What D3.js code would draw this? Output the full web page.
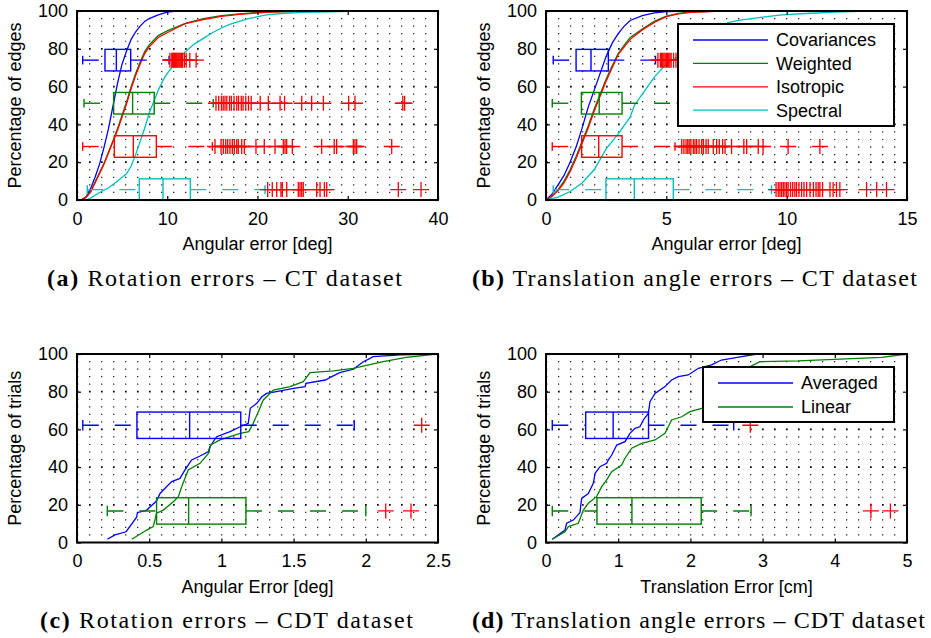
<!DOCTYPE html>
<html>
<head>
<meta charset="utf-8">
<script src="https://cdn.jsdelivr.net/npm/d3@7"></script>
<style>
  body { margin: 0; background: #fff; }
  svg { display: block; }
</style>
</head>
<body>
<svg id="fig" width="931" height="638"></svg>
<script>
// ---- series names / colours
const seriesCT = ['Covariances', 'Weighted', 'Isotropic', 'Spectral'];
const seriesCDT = ['Averaged', 'Linear'];
const colorsCT = ['#0000ff', '#008000', '#ff0000', '#00bfbf'];
const colorsCDT = ['#0000ff', '#008000'];

// ---- tick values
const yTicks = [0, 20, 40, 60, 80, 100];
const aTicks = [0, 10, 20, 30, 40];
const bTicks = [0, 5, 10, 15];
const cTicks = [0, 0.5, 1, 1.5, 2, 2.5];
const dTicks = [0, 1, 2, 3, 4, 5];

// ---- (a) rotation errors, CT: cumulative curves [error, percent]
const aCovCdf = [[0.4,0],[1,1.5],[1.5,6],[2,12],[2.5,19],[3,28],[3.5,38],[4,50],[4.5,62],[5,72],[5.5,79],[6,85],[6.5,89],[7,92],[7.5,94.5],[8,96],[9,98],[10,99.4],[11,100]];
const aWeiCdf = [[0.5,0],[1,1.5],[1.5,4.5],[2,9.5],[2.5,14.5],[3,19.5],[3.5,25.5],[4,31.5],[4.5,38],[5,45],[5.5,52],[6,60],[6.5,67],[7,73],[7.5,78.5],[8,82],[9,87],[10,89.5],[11,91.5],[12,93.5],[14,96],[16,97.5],[18,98.5],[20,99.2],[22,99.6],[25,99.9],[28,100],[36,100]];
const aIsoCdf = [[0.5,0],[1,1.5],[1.5,4],[2,9],[2.5,14],[3,19],[3.5,25],[4,31],[4.5,37],[5,44],[5.5,51],[6,59],[6.5,66],[7,72],[7.5,77.5],[8,81],[9,86],[10,88.5],[11,91],[12,93.3],[14,95.5],[16,97.2],[18,98.2],[20,99],[22,99.5],[25,99.8],[28,100],[36,100]];
const aSpeCdf = [[1,0],[1.5,1],[2.5,4],[3.5,6.5],[4.5,10],[5.5,14],[6,18],[6.5,24],[7,31],[7.5,38],[8,46],[8.5,52],[9,58],[9.5,63],[10,67],[11,73],[12,78.5],[13,82.5],[14,85.5],[15,88.5],[16,91],[17,93],[18,94.5],[19,96],[21,97.9],[23,98.8],[25,99.3],[28,99.6],[31,99.9],[35,100]];

// (a) box plots: lo whisker, q1, median, q3, hi whisker, row (percent), outliers
const aBoxes = [
  { lo: 0.63, q1: 3.1, med: 4.36, q3: 5.95, hi: 10.2, row: 74,
    out: [10.3,10.5,10.6,10.7,10.8,10.9,11.0,11.1,11.2,11.3,11.4,11.5,11.6,11.7,11.9,12.1,12.5,13.2] },
  { lo: 0.78, q1: 4.06, med: 6.16, q3: 8.56, hi: 15.1, row: 51.2,
    out: [15.4,15.7,16.0,16.2,16.4,16.6,16.9,17.1,17.4,17.7,17.9,18.2,18.4,18.7,19.0,19.3,20.3,21.2,22.5,23.0,24.9,26.0,27.3,30.1,30.8,36.1,36.3] },
  { lo: 0.63, q1: 4.14, med: 6.24, q3: 8.79, hi: 15.0, row: 28.3,
    out: [15.29,15.96,16.21,16.48,16.69,16.95,17.21,17.43,17.7,17.87,18.25,18.54,19.83,20.75,21.94,22.86,23.05,23.23,23.86,27.11,28.5,28.77,30.62,30.8,30.99,34.87] },
  { lo: 1.14, q1: 6.9, med: 9.53, q3: 12.56, hi: 20.83, row: 5.5,
    out: [21.13,21.64,22.13,22.6,22.75,23.24,24.52,24.71,24.9,25.07,26.56,26.93,27.41,27.67,35.6,38.12] }
];

// ---- (b) translation angle errors, CT
const bCovCdf = [[0,0],[0.25,3],[0.5,8],[0.75,13],[1,20],[1.25,28],[1.5,38],[1.75,49],[2,58],[2.25,67],[2.5,76],[2.75,83],[3,88],[3.25,92],[3.5,95],[4,97.5],[4.5,99],[5,99.7],[6,100],[6.7,100]];
const bWeiCdf = [[0,0],[0.25,2],[0.5,5.5],[0.75,10],[1,16],[1.25,23],[1.5,31],[1.75,39],[2,48],[2.25,56],[2.5,64],[2.75,71],[3,77.5],[3.25,82],[3.5,86],[4,90.5],[4.5,94.5],[5,97.3],[5.5,98.7],[6,99.4],[7,99.8],[8,100],[14.5,100]];
const bIsoCdf = [[0,0],[0.25,2],[0.5,5],[0.75,9],[1,15],[1.25,22],[1.5,30],[1.75,38],[2,47],[2.25,55],[2.5,63],[2.75,70],[3,77],[3.25,81],[3.5,85],[4,90],[4.5,94],[5,97],[5.5,98.5],[6,99.3],[7,99.8],[8,100],[14.5,100]];
const bSpeCdf = [[0,0],[0.5,1.5],[1,4.5],[1.5,9],[2,16],[2.5,27],[3,35],[3.5,44],[3.67,50],[4,56],[4.5,65],[5,72],[5.5,76],[6,81],[6.5,85],[7,89],[7.57,93.8],[8,95],[9,96.8],[9.8,97.9],[11,98.8],[12,99.4],[13,99.8],[14.5,100]];

const bBoxes = [
  { lo: 0.3, q1: 1.25, med: 1.87, q3: 2.59, hi: 4.55, row: 74,
    out: [4.65,4.75,4.8,4.85,4.9,4.95,5.0,5.05,5.1,5.15,5.2,5.3,5.4,5.6,5.8] },
  { lo: 0.26, q1: 1.47, med: 2.21, q3: 3.16, hi: 5.5, row: 51.2,
    out: [5.76,5.9,6.0,6.1,6.2,6.3,6.5,6.7,7.0,7.3,7.7,8.3,9.0,10.1] },
  { lo: 0.26, q1: 1.48, med: 2.19, q3: 3.16, hi: 5.36, row: 28.3,
    out: [5.64,5.73,5.82,5.89,5.95,6.02,6.12,6.19,6.26,6.36,6.47,6.54,6.65,6.74,6.95,7.09,7.2,7.34,7.44,7.71,8.22,8.34,8.82,9.02,10.06,11.38] },
  { lo: 0.3, q1: 2.49, med: 3.67, q3: 5.29, hi: 9.37, row: 5.5,
    out: [9.56,9.65,9.72,9.79,9.86,9.93,10.0,10.06,10.16,10.25,10.34,10.41,10.51,10.62,10.72,10.83,10.97,11.11,11.22,11.31,11.38,11.49,11.8,11.93,12.07,12.21,13.32,13.74,14.15] }
];

// ---- (c) rotation errors, CDT
const cAvgCdf = [[0.21,1.7],[0.263,4],[0.34,5.7],[0.413,13.4],[0.418,15.8],[0.483,17.2],[0.55,22],[0.575,26],[0.62,29.6],[0.656,32.3],[0.713,34],[0.748,38.5],[0.794,43.8],[0.852,45.9],[0.91,48.2],[0.92,50.8],[0.967,56.1],[1.06,58.8],[1.13,61.4],[1.186,63.2],[1.2,71.2],[1.245,73.8],[1.28,77.3],[1.313,79.1],[1.38,80],[1.5,81.8],[1.58,82.7],[1.585,84.4],[1.72,86.2],[1.764,88],[1.82,90.1],[1.913,91.9],[1.983,95.9],[2.03,97.7],[2.05,98.6],[2.24,99.5],[2.49,100]];
const cLinCdf = [[0.379,1.7],[0.483,6.6],[0.528,8.4],[0.551,15.5],[0.598,17.2],[0.667,21.6],[0.702,24.3],[0.725,29.6],[0.77,38.5],[0.852,42],[0.91,47.3],[0.926,51.7],[0.99,54.4],[1.13,57.9],[1.19,58.8],[1.22,63.2],[1.256,69.4],[1.29,75.6],[1.36,80.9],[1.475,82.7],[1.567,85.3],[1.614,90.1],[1.775,91.1],[1.913,92.4],[2.12,95.9],[2.28,98.2],[2.49,100]];

const cBoxes = [
  { lo: 0.04, q1: 0.415, med: 0.78, q3: 1.134, hi: 1.92, row: 62.2, out: [2.387] },
  { lo: 0.21, q1: 0.551, med: 0.773, q3: 1.17, hi: 2.0, row: 16.75, out: [2.138, 2.313] }
];

// ---- (d) translation errors, CDT
const dAvgCdf = [[0.087,1.7],[0.263,6.6],[0.286,10.2],[0.378,11.9],[0.47,15.8],[0.494,23.4],[0.586,26],[0.655,31.4],[0.68,36.7],[0.748,40.2],[0.84,42],[0.863,43.8],[0.91,46.4],[0.98,51.7],[1.094,53.5],[1.163,57.9],[1.233,60.6],[1.3,61.4],[1.348,65],[1.417,68.5],[1.44,74.7],[1.51,79.1],[1.648,82.7],[1.74,86.2],[1.83,88],[1.97,88.9],[2.11,92.4],[2.295,94.2],[2.43,96.8],[2.57,97.7],[2.71,98.6],[2.92,100]];
const dLinCdf = [[0.087,1.7],[0.263,5.7],[0.31,8.4],[0.448,10.2],[0.517,17.2],[0.586,20.8],[0.7,24.3],[0.771,29.6],[0.84,33.2],[0.91,37.6],[1.048,41.1],[1.094,44.7],[1.187,50],[1.325,52.6],[1.51,54.4],[1.648,57.9],[1.74,65],[1.88,66.7],[1.994,69.4],[2.157,71.2],[2.3,75],[2.45,80],[2.6,86],[2.7,90],[2.83,93.3],[2.96,95.9],[3.49,96.3],[4.65,98.2],[5.0,100]];

const dBoxes = [
  { lo: 0.087, q1: 0.55, med: 0.93, q3: 1.42, hi: 2.6, row: 62.2, out: [2.83] },
  { lo: 0.087, q1: 0.706, med: 1.19, q3: 2.15, hi: 2.84, row: 16.75, out: [4.5, 4.77] }
];

// ---- layout
const SANS = "'Liberation Sans', Arial, Helvetica, sans-serif";
const SERIF = "'Liberation Serif', 'Times New Roman', serif";
const FS = 18;

const panels = [
  { left: 77, right: 438, top: 11, bottom: 200, xDomain: [0, 40], xTicks: aTicks,
    xLabel: 'Angular error [deg]', yLabel: 'Percentage of edges',
    cdfs: [aCovCdf, aWeiCdf, aIsoCdf, aSpeCdf], boxes: aBoxes, names: seriesCT, colors: colorsCT,
    half: 5.7, legend: null,
    tag: '(a)', caption: ' Rotation errors – CT dataset', capX: [47, 402], capY: 286 },
  { left: 546, right: 907, top: 11, bottom: 200, xDomain: [0, 15], xTicks: bTicks,
    xLabel: 'Angular error [deg]', yLabel: 'Percentage of edges',
    cdfs: [bCovCdf, bWeiCdf, bIsoCdf, bSpeCdf], boxes: bBoxes, names: seriesCT, colors: colorsCT,
    half: 5.7, legend: { x: 678, y: 24, w: 216, h: 102, step: 23.4 },
    tag: '(b)', caption: ' Translation angle errors – CT dataset', capX: [472, 917], capY: 286 },
  { left: 77, right: 438, top: 354, bottom: 542.5, xDomain: [0, 2.5], xTicks: cTicks,
    xLabel: 'Angular Error [deg]', yLabel: 'Percentage of trials',
    cdfs: [cAvgCdf, cLinCdf], boxes: cBoxes, names: seriesCDT, colors: colorsCDT,
    half: 7, legend: null,
    tag: '(c)', caption: ' Rotation errors – CDT dataset', capX: [40, 413], capY: 628 },
  { left: 546, right: 907, top: 354, bottom: 542.5, xDomain: [0, 5], xTicks: dTicks,
    xLabel: 'Translation Error [cm]', yLabel: 'Percentage of trials',
    cdfs: [dAvgCdf, dLinCdf], boxes: dBoxes, names: seriesCDT, colors: colorsCDT,
    half: 7, legend: { x: 703, y: 367, w: 191, h: 55, step: 24 },
    tag: '(d)', caption: ' Translation angle errors – CDT dataset', capX: [472, 925], capY: 628 }
];

const svg = d3.select('#fig');

panels.forEach((p) => drawPanel(p));

function drawPanel(p) {
  const x = d3.scaleLinear().domain(p.xDomain).range([p.left, p.right]);
  const y = d3.scaleLinear().domain([0, 100]).range([p.bottom, p.top]);
  const g = svg.append('g');

  // dotted grid (rows every 4 %)
  const gridRows = d3.range(4, 100, 4);
  g.selectAll('line.grid')
    .data(gridRows)
    .enter()
    .append('line')
    .attr('x1', p.left)
    .attr('x2', p.right)
    .attr('y1', (d) => y(d))
    .attr('y2', (d) => y(d))
    .attr('stroke', '#000')
    .attr('stroke-width', (d) => (d % 20 === 0 ? 1.7 : 1.2))
    .attr('stroke-dasharray', (d) => (d % 20 === 0 ? '1.7,10.3' : '1.3,10.7'))
    .attr('opacity', (d) => (d % 20 === 0 ? 1 : 0.85));

  // cumulative curves
  const line = d3.line().x((d) => x(d[0])).y((d) => y(d[1]));
  p.cdfs.forEach((c, i) => {
    g.append('path')
      .attr('d', line(c))
      .attr('fill', 'none')
      .attr('stroke', p.colors[i])
      .attr('stroke-width', 1.3);
  });

  // box plots
  p.boxes.forEach((b, i) => {
    const col = p.colors[i];
    const yc = y(b.row);
    const yt = y(b.row + p.half);
    const yb = y(b.row - p.half);
    const capH = (yb - yt) * 0.2;
    const bg = g.append('g').attr('stroke', col).attr('stroke-width', 1.4).attr('fill', 'none');

    bg.append('line').attr('x1', x(b.lo)).attr('x2', x(b.q1)).attr('y1', yc).attr('y2', yc)
      .attr('stroke-dasharray', '16,16');
    bg.append('line').attr('x1', x(b.q3)).attr('x2', x(b.hi)).attr('y1', yc).attr('y2', yc)
      .attr('stroke-dasharray', '16,16');
    [b.lo, b.hi].forEach((v) => {
      bg.append('line').attr('x1', x(v)).attr('x2', x(v)).attr('y1', yc - capH).attr('y2', yc + capH);
    });
    bg.append('rect')
      .attr('x', x(b.q1)).attr('y', yt)
      .attr('width', x(b.q3) - x(b.q1)).attr('height', yb - yt);
    bg.append('line').attr('x1', x(b.med)).attr('x2', x(b.med)).attr('y1', yt).attr('y2', yb);

    // outliers as red plus marks
    g.selectAll(null)
      .data(b.out)
      .enter()
      .append('path')
      .attr('d', (v) => `M${x(v) - 8},${yc}H${x(v) + 8}M${x(v)},${yc - 7.5}V${yc + 7.5}`)
      .attr('stroke', '#ff0000')
      .attr('stroke-width', 1.3)
      .attr('fill', 'none');
  });

  // axes
  const xAxis = d3.axisBottom(x).tickValues(p.xTicks).tickSize(-4).tickPadding(12).tickFormat(d3.format('~g'));
  const yAxis = d3.axisLeft(y).tickValues(yTicks).tickSize(-4).tickPadding(9);
  const xTop = d3.axisTop(x).tickValues(p.xTicks).tickSize(-4).tickFormat('');
  const yRight = d3.axisRight(y).tickValues(yTicks).tickSize(-4).tickFormat('');

  const axes = [
    g.append('g').attr('transform', `translate(0,${p.bottom})`).call(xAxis),
    g.append('g').attr('transform', `translate(${p.left},0)`).call(yAxis),
    g.append('g').attr('transform', `translate(0,${p.top})`).call(xTop),
    g.append('g').attr('transform', `translate(${p.right},0)`).call(yRight)
  ];
  axes.forEach((a) => {
    a.attr('font-family', SANS).attr('font-size', FS);
    a.select('.domain').remove();
    a.selectAll('.tick line').attr('stroke', '#000').attr('stroke-width', 1.2);
    a.selectAll('.tick text').attr('fill', '#000');
  });

  // frame
  g.append('rect')
    .attr('x', p.left).attr('y', p.top)
    .attr('width', p.right - p.left).attr('height', p.bottom - p.top)
    .attr('fill', 'none').attr('stroke', '#000').attr('stroke-width', 2);

  // axis titles
  g.append('text')
    .attr('x', (p.left + p.right) / 2)
    .attr('y', p.bottom + 50)
    .attr('text-anchor', 'middle')
    .attr('font-family', SANS).attr('font-size', FS)
    .text(p.xLabel);

  g.append('text')
    .attr('transform', `translate(${p.left - 56.5},${(p.top + p.bottom) / 2}) rotate(-90)`)
    .attr('text-anchor', 'middle')
    .attr('font-family', SANS).attr('font-size', FS)
    .text(p.yLabel);

  // legend
  if (p.legend) {
    const L = p.legend;
    const lg = g.append('g');
    lg.append('rect')
      .attr('x', L.x).attr('y', L.y).attr('width', L.w).attr('height', L.h)
      .attr('fill', '#fff').attr('stroke', '#000').attr('stroke-width', 2);
    p.names.forEach((n, i) => {
      const ly = L.y + 16 + i * L.step;
      lg.append('line')
        .attr('x1', L.x + 15).attr('x2', L.x + 90).attr('y1', ly).attr('y2', ly)
        .attr('stroke', p.colors[i]).attr('stroke-width', 1.3);
      lg.append('text')
        .attr('x', L.x + 98).attr('y', ly).attr('dy', '0.35em')
        .attr('font-family', SANS).attr('font-size', FS)
        .text(n);
    });
  }

  // caption
  const cap = svg.append('text')
    .attr('x', p.capX[0]).attr('y', p.capY)
    .attr('font-family', SERIF).attr('font-size', 24)
    .attr('textLength', p.capX[1] - p.capX[0])
    .attr('lengthAdjust', 'spacing');
  cap.append('tspan').attr('font-weight', 'bold').text(p.tag);
  cap.append('tspan').text(p.caption);
}
</script>
</body>
</html>
